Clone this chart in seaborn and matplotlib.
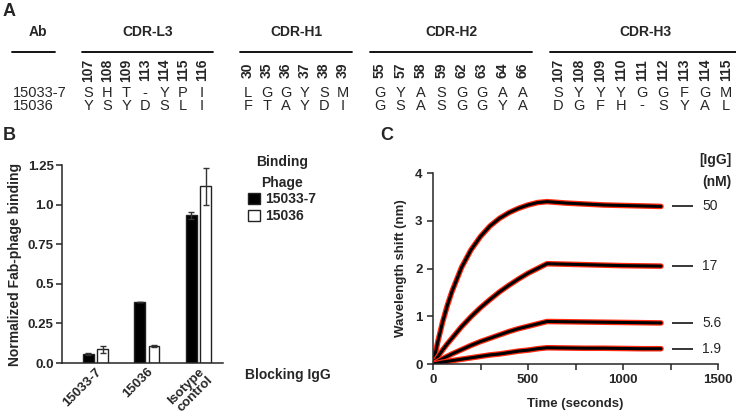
import matplotlib
matplotlib.use("Agg")
import matplotlib.pyplot as plt
from matplotlib.lines import Line2D
from matplotlib.ticker import MultipleLocator
import seaborn as sns
import pandas as pd

# ---- panel A: sequence table ----
ab_names = ["15033-7", "15036"]
cdr_names = ["CDR-L3", "CDR-H1", "CDR-H2", "CDR-H3"]
cdr_positions = [
    ["107", "108", "109", "113", "114", "115", "116"],
    ["30", "35", "36", "37", "38", "39"],
    ["55", "57", "58", "59", "62", "63", "64", "66"],
    ["107", "108", "109", "110", "111", "112", "113", "114", "115"],
]
res_15033 = ["SHT-YPI", "LGGYSM", "GYASGGAA", "SYYYGGFGM"]
res_15036 = ["YSYDSLI", "FTAYDI", "GSASGGYA", "DGFH-SYAL"]

# ---- panel B: blocking assay ----
blocking = ["15033-7", "15036", "Isotype\ncontrol"]
phage = ["15033-7", "15036"]
bind_15033 = [0.057, 0.385, 0.934]
bind_15036 = [0.088, 0.107, 1.117]
err_15033 = [0.005, 0.003, 0.022]
err_15036 = [0.022, 0.004, 0.117]

# ---- panel C: BLI sensorgrams ----
time_s = [0, 25, 50, 75, 100, 150, 200, 250, 300, 350, 400, 450, 500, 550, 600,
          700, 800, 900, 1000, 1100, 1200]
conc_labels = ["50", "17", "5.6", "1.9"]
shift_50 = [0, 0.46, 0.87, 1.22, 1.52, 2.02, 2.39, 2.67, 2.89, 3.05, 3.17, 3.26, 3.33, 3.38, 3.40,
            3.37, 3.35, 3.33, 3.32, 3.31, 3.30]
shift_17 = [0, 0.15, 0.29, 0.42, 0.54, 0.78, 0.99, 1.18, 1.35, 1.51, 1.65, 1.78, 1.90, 2.00, 2.10,
            2.09, 2.08, 2.07, 2.06, 2.055, 2.05]
shift_5_6 = [0, 0.055, 0.11, 0.16, 0.21, 0.30, 0.39, 0.47, 0.54, 0.61, 0.68, 0.74, 0.79, 0.84, 0.89,
             0.885, 0.88, 0.875, 0.87, 0.865, 0.86]
shift_1_9 = [0, 0.02, 0.04, 0.055, 0.07, 0.10, 0.13, 0.16, 0.19, 0.21, 0.24, 0.27, 0.29, 0.32, 0.34,
             0.335, 0.33, 0.33, 0.325, 0.32, 0.32]

sns.set_theme(style="ticks")
plt.rcParams["font.family"] = ["Liberation Sans", "DejaVu Sans"]
plt.rcParams["axes.linewidth"] = 1.1
plt.rcParams["xtick.major.width"] = 1.1
plt.rcParams["ytick.major.width"] = 1.1

W, H = 736, 415
fig = plt.figure(figsize=(W / 100, H / 100), dpi=100)


def fx(x):
    return x / W


def fy(y):
    return 1 - y / H


# panel letters
for lab, (x, y) in zip(["A", "B", "C"], [(3, 12), (3, 135), (380, 135)]):
    fig.text(fx(x), fy(y), lab, fontsize=13, fontweight="bold", va="center", ha="left")

# ---- table ----
fig.text(fx(38), fy(32), "Ab", fontsize=10, fontweight="bold", ha="center", va="center")
fig.add_artist(Line2D([fx(12), fx(55)], [fy(52), fy(52)], color="black", lw=1.3))
for i, name in enumerate(ab_names):
    fig.text(fx(13), fy(93 + 12.5 * i), name, fontsize=10.5, ha="left", va="center")

col_start = [88, 248, 380, 558]
col_step = [19, 19, 20.4, 21]
line_span = [(82, 213), (240, 352), (370, 532), (550, 736)]
title_x = [148, 296, 451, 645]
for g, name in enumerate(cdr_names):
    fig.text(fx(title_x[g]), fy(32), name, fontsize=10, fontweight="bold", ha="center", va="center")
    x0, x1 = line_span[g]
    fig.add_artist(Line2D([fx(x0), fx(x1)], [fy(52), fy(52)], color="black", lw=1.3))
    for j, pos in enumerate(cdr_positions[g]):
        x = col_start[g] + j * col_step[g]
        fig.text(fx(x), fy(70), pos, fontsize=10, fontweight="bold", rotation=90,
                 ha="center", va="center")
        fig.text(fx(x), fy(93), res_15033[g][j], fontsize=10.5, ha="center", va="center")
        fig.text(fx(x), fy(105.5), res_15036[g][j], fontsize=10.5, ha="center", va="center")

# ---- panel B ----
axb = fig.add_axes([fx(62), fy(363), (223 - 62) / W, (363 - 165) / H])
df = pd.DataFrame({
    "blocking": blocking * 2,
    "phage": [phage[0]] * 3 + [phage[1]] * 3,
    "value": bind_15033 + bind_15036,
})
sns.barplot(data=df, x="blocking", y="value", hue="phage", order=blocking, hue_order=phage,
            palette={phage[0]: "black", phage[1]: "white"}, edgecolor="#222222", linewidth=1,
            width=0.56, gap=0.25, errorbar=None, ax=axb)
for cont, errs in zip(axb.containers, [err_15033, err_15036]):
    xs = [b.get_x() + b.get_width() / 2 for b in cont]
    ys = [b.get_height() for b in cont]
    axb.errorbar(xs, ys, yerr=errs, fmt="none", ecolor="#333333", elinewidth=1, capsize=2.5, capthick=1)
axb.set_xlim(-0.65, 2.48)
axb.set_ylim(0, 1.25)
axb.set_yticks([0, 0.25, 0.5, 0.75, 1.0, 1.25])
axb.set_yticklabels(["0.0", "0.25", "0.5", "0.75", "1.0", "1.25"], fontsize=9.5, fontweight="bold")
axb.set_xticks(range(3))
axb.set_xticklabels(blocking, rotation=45, ha="right", rotation_mode="anchor",
                    fontsize=9.5, fontweight="bold", linespacing=1.0)
axb.tick_params(axis="x", length=0, pad=2)
axb.tick_params(axis="y", length=4, pad=2)
axb.set_xlabel("")
axb.set_ylabel("Normalized Fab-phage binding", fontsize=10, fontweight="bold", labelpad=4)
sns.despine(ax=axb)
leg = axb.legend(title="Binding\nPhage", loc="upper left", bbox_to_anchor=(fx(241), fy(148)),
                 bbox_transform=fig.transFigure, frameon=False, handlelength=0.85, handleheight=0.85,
                 handletextpad=0.4, labelspacing=0.2, borderpad=0,
                 prop={"weight": "bold", "size": 10},
                 title_fontproperties={"weight": "bold", "size": 10})
leg.get_title().set_multialignment("center")
leg.get_title().set_linespacing(1.6)
fig.text(fx(245), fy(375), "Blocking IgG", fontsize=10, fontweight="bold", ha="left", va="center")

# ---- panel C ----
axc = fig.add_axes([fx(433), fy(364), (718 - 433) / W, (364 - 173) / H])
for lab, vals in zip(conc_labels, [shift_50, shift_17, shift_5_6, shift_1_9]):
    sns.lineplot(x=time_s, y=vals, color="#ff2a10", lw=4.0, ax=axc)
    sns.lineplot(x=time_s, y=vals, color="black", lw=2.2, ax=axc)
    axc.hlines(vals[-1], 1258, 1368, color="black", lw=1.1)
    axc.text(1416, vals[-1], lab, fontsize=10, ha="left", va="center")
axc.set_xlim(0, 1500)
axc.set_ylim(0, 4)
axc.set_xticks([0, 500, 1000, 1500])
axc.xaxis.set_minor_locator(MultipleLocator(250))
axc.set_yticks([0, 1, 2, 3, 4])
axc.tick_params(which="both", length=4, width=1.1, labelsize=9.5)
for t in axc.get_xticklabels() + axc.get_yticklabels():
    t.set_fontweight("bold")
axc.set_xlabel("Time (seconds)", fontsize=9.5, fontweight="bold", labelpad=8)
axc.set_ylabel("Wavelength shift (nm)", fontsize=9.5, fontweight="bold", labelpad=6)
sns.despine(ax=axc)
fig.text(fx(715), fy(160), "[IgG]", fontsize=10, fontweight="bold", ha="center", va="center")
fig.text(fx(717), fy(182), "(nM)", fontsize=10, fontweight="bold", ha="center", va="center")

fig.savefig("out.png", dpi=100)
